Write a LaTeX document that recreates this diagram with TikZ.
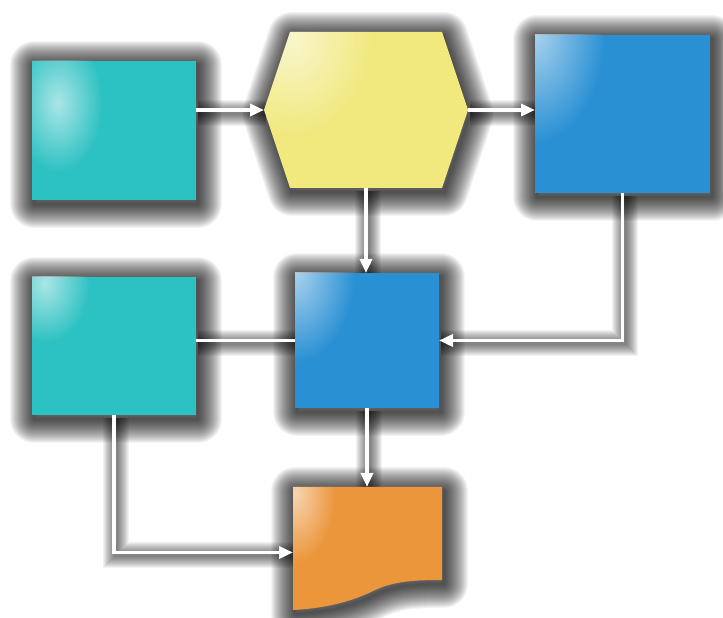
\documentclass[tikz,border=0pt]{standalone}
\usetikzlibrary{calc,arrows.meta,fadings}
\definecolor{tealc}{RGB}{44,193,194}
\definecolor{yelc}{RGB}{241,233,126}
\definecolor{bluec}{RGB}{41,144,212}
\definecolor{orac}{RGB}{236,150,60}
\tikzfading[name=glint, inner color=transparent!40, outer color=transparent!100]
\newcommand\shapeglow[1]{%
  \foreach \w in {48,46,...,2}{%
    \draw[black, draw opacity=0.045, line width=\w pt, line join=round,
      transform canvas={xshift=2pt,yshift=-4pt}] #1;}}
\newcommand\lineglow[1]{%
  \foreach \w in {26,24,...,4}{%
    \draw[black, draw opacity=0.05, line width=\w pt,
      transform canvas={xshift=2pt,yshift=-3pt}] #1;}}
\newcommand\shapefill[4]{% path, colour, highlight centre, radii
  \fill[#2] #1;
  \begin{scope}
    \clip #1;
    \fill[white, path fading=glint] #3 ellipse #4;
  \end{scope}}
\tikzset{
  anchorbox/.style={inner sep=0pt, outer sep=0pt, draw=none, minimum width=#1},
  link/.style={white, line width=3.5pt},
  arr/.style={link, -{Triangle[length=14pt,width=12pt]}}
}
\begin{document}
\begin{tikzpicture}[x=1pt,y=1pt]
\useasboundingbox (0,0) rectangle (723,618);
\fill[white] (0,0) rectangle (723,618);
% named geometry
\node[anchorbox=164pt, minimum height=139pt] (t1) at (114,487.5) {};
\node[anchorbox=204pt, minimum height=156pt] (hx) at (366,508) {};
\node[anchorbox=175pt, minimum height=158pt] (b1) at (622.5,504) {};
\node[anchorbox=144pt, minimum height=135pt] (m)  at (367,277.5) {};
\node[anchorbox=164pt, minimum height=138pt] (t2) at (114,272) {};
\node[anchorbox=149pt, minimum height=123pt] (d)  at (367.5,69.5) {};
% shape glows
\shapeglow{(t1.south west) rectangle (t1.north east)}
\shapeglow{($(hx.north west)+(26,0)$) -- ($(hx.north east)+(-26,0)$) -- (hx.east) -- ($(hx.south east)+(-26,0)$) -- ($(hx.south west)+(26,0)$) -- (hx.west) -- cycle}
\shapeglow{(b1.south west) rectangle (b1.north east)}
\shapeglow{(m.south west) rectangle (m.north east)}
\shapeglow{(t2.south west) rectangle (t2.north east)}
\shapeglow{(d.north west) -- (d.north east) -- ($(d.south east)+(0,30)$) .. controls ($(d.south east)+(-27,30)$) and ($(d.south east)+(-47,29)$) .. ($(d.south east)+(-67,20)$) .. controls ($(d.south east)+(-87,10)$) and ($(d.south west)+(37,2)$) .. (d.south west) -- cycle}
% connector glows
\lineglow{(hx.west -| t1.east) -- (hx.west)}
\lineglow{(hx.east) -- (hx.east -| b1.west)}
\lineglow{(hx.south) -- (hx.south |- m.north)}
\lineglow{(b1.south) |- (m.east)}
\lineglow{(t2.east |- m.west) -- (m.west)}
\lineglow{(m.south) -- (m.south |- d.north)}
\lineglow{(t2.south) |- ([yshift=-4pt]d.west)}
% connectors
\draw[arr] (hx.west -| t1.east) -- (hx.west);
\draw[arr] (hx.east) -- (hx.east -| b1.west);
\draw[arr] (hx.south) -- (hx.south |- m.north);
\draw[arr] (b1.south) |- (m.east);
\draw[link] (t2.east |- m.west) -- (m.west);
\draw[arr] (m.south) -- (m.south |- d.north);
\draw[arr] (t2.south) |- ([yshift=-4pt]d.west);
% shapes
\shapefill{(t1.south west) rectangle (t1.north east)}{tealc}{(58,515)}{(45 and 70)}
\shapefill{($(hx.north west)+(26,0)$) -- ($(hx.north east)+(-26,0)$) -- (hx.east) -- ($(hx.south east)+(-26,0)$) -- ($(hx.south west)+(26,0)$) -- (hx.west) -- cycle}{yelc}{(292,578)}{(80 and 95)}
\shapefill{(b1.south west) rectangle (b1.north east)}{bluec}{(535,585)}{(70 and 110)}
\shapefill{(m.south west) rectangle (m.north east)}{bluec}{(295,345)}{(60 and 90)}
\shapefill{(t2.south west) rectangle (t2.north east)}{tealc}{(45,335)}{(45 and 60)}
\shapefill{(d.north west) -- (d.north east) -- ($(d.south east)+(0,30)$) .. controls ($(d.south east)+(-27,30)$) and ($(d.south east)+(-47,29)$) .. ($(d.south east)+(-67,20)$) .. controls ($(d.south east)+(-87,10)$) and ($(d.south west)+(37,2)$) .. (d.south west) -- cycle}{orac}{(295,125)}{(40 and 70)}
\end{tikzpicture}
\end{document}
